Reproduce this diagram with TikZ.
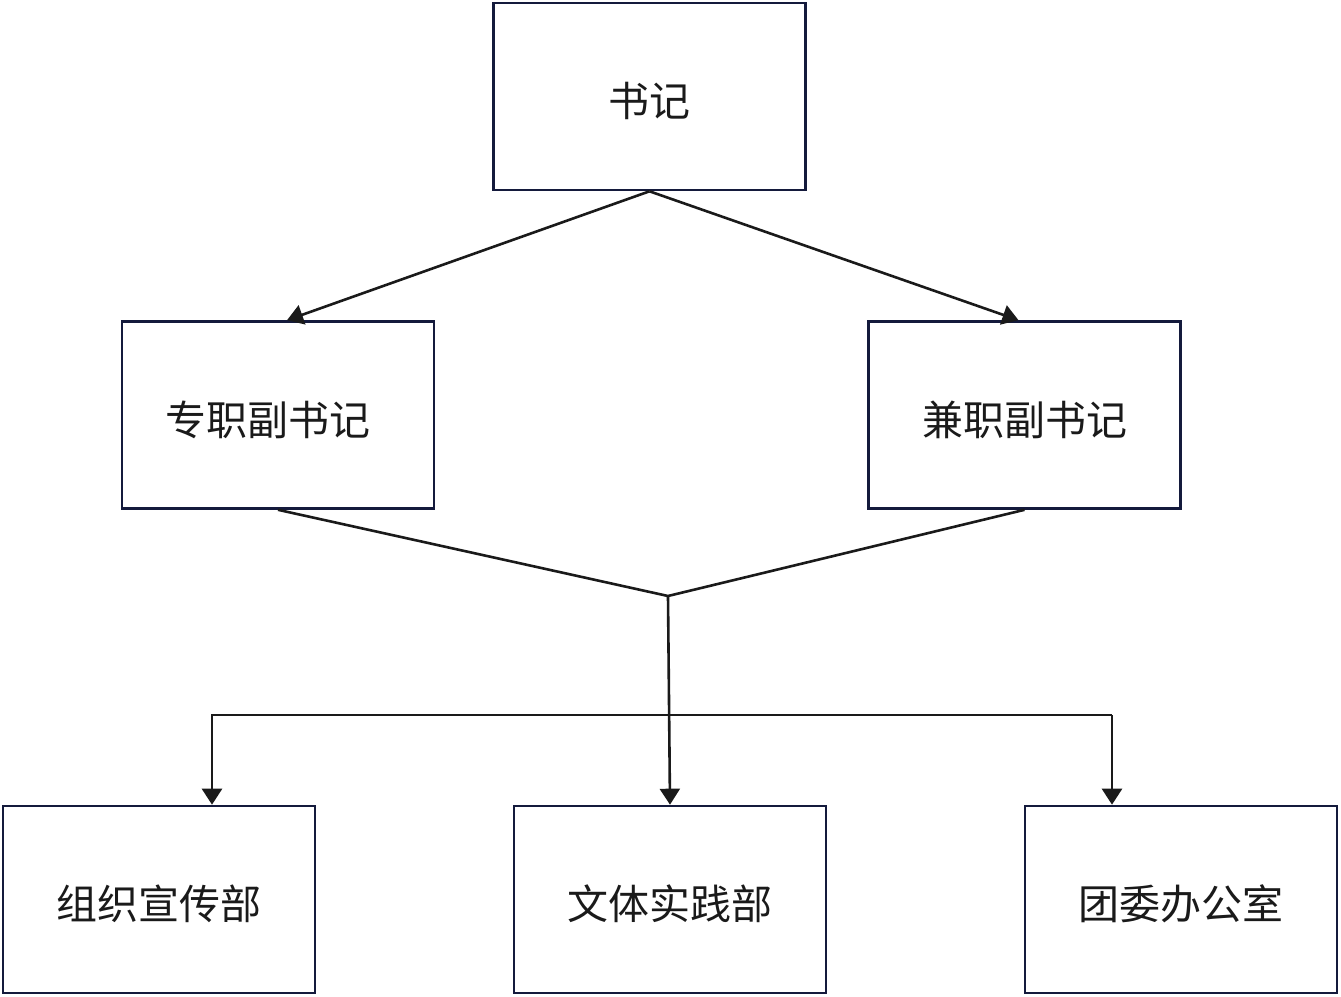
\documentclass[tikz,border=0pt]{standalone}
\usepackage{fontspec}
\newfontfamily\cjk{Noto Sans CJK SC}
\usetikzlibrary{arrows.meta}
\definecolor{boxline}{HTML}{141A3C}
\definecolor{conn}{HTML}{1A1A1A}
\newcommand{\lbl}[1]{\raisebox{-10pt}[0pt][0pt]{#1}}
\begin{document}
\begin{tikzpicture}[x=0.5pt,y=-0.5pt,
  box/.style={draw=boxline,line width=1.3pt,rectangle,inner sep=0pt,
    minimum width=156pt,minimum height=93.5pt,font=\cjk\fontsize{20.5}{24}\selectfont,text=conn},
  link/.style={draw=conn,line width=1.3pt},
  arr/.style={link,-{Triangle[width=10pt,length=8pt]}}]
\useasboundingbox (0,0) rectangle (1341,997);
\node[box] (sj) at (649.5,96.5) {\lbl{书记}};
\node[box,text width=156pt,align=center] (zz) at (278,415) {\lbl{专职副书记\hspace*{10pt}}};
\node[box] (jz) at (1024.5,415) {\lbl{兼职副书记}};
\node[box] (zx) at (159,899.5) {\lbl{组织宣传部}};
\node[box] (wt) at (670,899.5) {\lbl{文体实践部}};
\node[box] (tw) at (1181,899.5) {\lbl{团委办公室}};
\coordinate (j) at (668,596);
\coordinate (hl) at (212,715);
\coordinate (hr) at (1112,715);
\draw[arr] (sj.south) -- ([xshift=4.5pt]zz.north);
\draw[arr] (sj.south) -- ([xshift=-3pt]jz.north);
\draw[link] (zz.south) -- (j) -- (jz.south);
\draw[arr] (j) -- (wt.north);
\draw[arr] (hr) -- (hl) -- (hl |- zx.north);
\draw[arr] (hr) -- (hr |- tw.north);
\end{tikzpicture}
\end{document}
